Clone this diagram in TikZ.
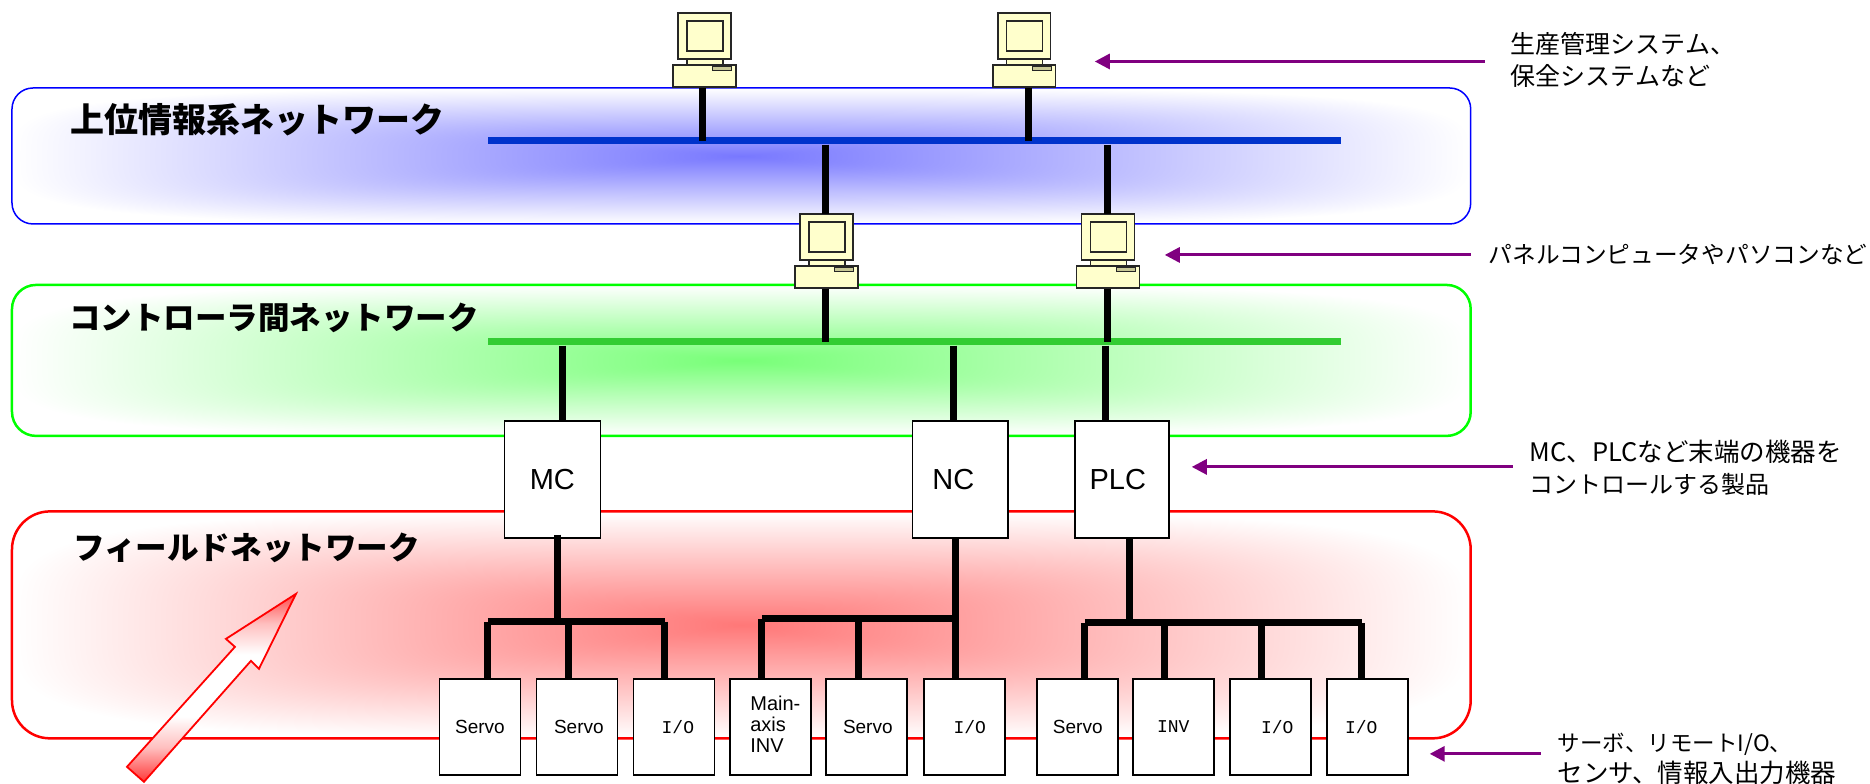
\documentclass[tikz,border=0pt]{standalone}
\usepackage{fontspec}
\setmainfont{Liberation Sans}
\newfontfamily\cjkfont{Noto Sans CJK JP}
\newfontfamily\boxmono{Liberation Mono}
\usetikzlibrary{arrows.meta}
\definecolor{busblue}{RGB}{0,51,204}
\definecolor{busgreen}{RGB}{51,204,51}
\definecolor{pcyellow}{RGB}{255,255,204}
\definecolor{slotc}{RGB}{200,200,150}
\definecolor{notepurple}{RGB}{128,0,128}
\pgfdeclarefunctionalshading{blueglow}{\pgfpointorigin}{\pgfpoint{100bp}{100bp}}{}{
  50 sub 25 div abs dup mul dup mul exch 50 sub 25 div abs dup mul dup mul add sqrt sqrt
  1 exch sub dup 0 lt {pop 0} if 0.53 mul 1 exch sub dup 1 }
\pgfdeclarefunctionalshading{greenglow}{\pgfpointorigin}{\pgfpoint{100bp}{100bp}}{}{
  50 sub 25 div abs dup mul dup mul exch 50 sub 25 div abs dup mul dup mul add sqrt sqrt
  1 exch sub dup 0 lt {pop 0} if 0.53 mul 1 exch sub dup 1 exch }
\pgfdeclarefunctionalshading{redglow}{\pgfpointorigin}{\pgfpoint{100bp}{100bp}}{}{
  50 sub 25 div abs dup mul dup mul exch 50 sub 25 div abs dup mul dup mul add sqrt sqrt
  1 exch sub dup 0 lt {pop 0} if 0.53 mul 1 exch sub dup 1 3 1 roll }
\pgfdeclareverticalshading{arrowglow}{100bp}{rgb(0bp)=(1,0,0); rgb(25bp)=(1,0,0); rgb(36bp)=(1,.75,.75); rgb(43bp)=(1,1,1); rgb(57bp)=(1,1,1); rgb(64bp)=(1,.75,.75); rgb(75bp)=(1,0,0); rgb(100bp)=(1,0,0)}
\tikzset{
  panel/.style={rectangle,shade,inner sep=0pt,minimum width=1459pt},
  bus/.style={rectangle,inner sep=0pt,minimum width=853pt,minimum height=7pt},
  wire/.style={line width=7pt,line cap=butt,black},
  bar/.style={line width=7pt,line cap=square,black},
  ctrlbox/.style={rectangle,draw=black,line width=1.6pt,fill=white,inner sep=0pt,minimum width=96pt,minimum height=117pt,font=\fontsize{29}{29}\selectfont},
  devbox/.style={rectangle,draw=black,line width=1.6pt,fill=white,inner sep=0pt,minimum width=81pt,minimum height=96pt,font=\fontsize{19}{21}\selectfont},
  pcpart/.style={draw=black!85,line width=1.4pt,fill=pcyellow},
  pcbase/.style={rectangle,pcpart,inner sep=0pt,minimum width=63pt,minimum height=22pt},
  title/.style={anchor=west,inner sep=0pt,font=\cjkfont\bfseries},
  note/.style={anchor=west,inner sep=0pt,align=left,font=\cjkfont\fontsize{23.5}{31}\selectfont},
  pointer/.style={-{Triangle[length=15pt,width=15pt]},line width=3pt,notepurple},
}
\newcommand{\pcunit}[3]{%
  \begin{scope}[shift={(#2,#3)}]
    \draw[pcpart] (14,46) rectangle (50,52);
    \draw[pcpart] (5,0) rectangle (58,46);
    \draw[pcpart] (14,8) rectangle (50,38);
    \coordinate (#1top) at (31.5,0);
    \node[pcbase] (#1) at (31.5,63) {};
    \draw[pcpart,fill=slotc,line width=1pt] (40,54) rectangle (59,58);
  \end{scope}}
\newcommand{\mono}{\boxmono\fontsize{18}{20}\selectfont}
\begin{document}
\begin{tikzpicture}[x=1pt,y=-1pt]
\useasboundingbox (0,0) rectangle (1870.4,783.85);
% panels
\node[panel,shading=blueglow,draw=blue,line width=1.5pt,rounded corners=21pt,minimum height=136pt] (blue) at (741.5,156) {};
\node[panel,shading=greenglow,draw=green,line width=2.5pt,rounded corners=24pt,minimum height=151pt] (green) at (741.5,360.5) {};
\node[panel,shading=redglow,draw=red,line width=2.5pt,rounded corners=38pt,minimum height=227pt] (red) at (741.5,625) {};
% titles
\node[title,font=\cjkfont\bfseries\fontsize{34}{34}\selectfont] (t1) at (70,120) {上位情報系ネットワーク};
\node[title,font=\cjkfont\bfseries\fontsize{31.5}{32}\selectfont] (t2) at (69,318) {コントローラ間ネットワーク};
\node[title,font=\cjkfont\bfseries\fontsize{31.6}{32}\selectfont] (t3) at (73,548) {フィールドネットワーク};
% buses
\node[bus,fill=busblue] (bluebus) at (914.5,141) {};
\node[bus,fill=busgreen] (greenbus) at (914.5,342) {};
% PCs
\pcunit{pc1}{673}{13}
\pcunit{pc2}{993}{13}
\pcunit{pc3}{795}{214}
\pcunit{pc4}{1077}{214}
% controllers
\node[ctrlbox] (mc) at (552.5,479.5) {MC};
\node[ctrlbox] (nc) at (960.5,479.5) {\hspace*{-14pt}NC};
\node[ctrlbox,minimum width=94pt] (plc) at (1122,479.5) {\hspace*{-8pt}PLC};
% devices
\node[devbox] (d1) at (480,727) {Servo};
\node[devbox] (d2) at (577,727) {\hspace*{4pt}Servo};
\node[devbox] (d3) at (674,727) {\hspace*{8pt}\mono I/O};
\node[devbox,font=\fontsize{20}{21}\selectfont] (d4) at (770.5,727) {\hspace*{10pt}\begin{tabular}{@{}l@{}}Main-\\axis\\INV\end{tabular}};
\node[devbox] (d5) at (866.5,727) {\hspace*{3pt}Servo};
\node[devbox] (d6) at (964.5,727) {\hspace*{11pt}\mono I/O};
\node[devbox] (d7) at (1077.5,727) {\hspace*{1pt}Servo};
\node[devbox] (d8) at (1173.5,727) {\mono INV};
\node[devbox] (d9) at (1270.5,727) {\hspace*{14pt}\mono I/O};
\node[devbox] (d10) at (1367.5,727) {\hspace*{-12pt}\mono I/O};
% wire guides
\coordinate (xp1) at (703,0);
\coordinate (xp2) at (1029,0);
\coordinate (xp3) at (826,0);
\coordinate (xp4) at (1108,0);
\coordinate (xmct) at (563,0);
\coordinate (xnct) at (954,0);
\coordinate (xplct) at (1106,0);
\coordinate (xmcb) at (558,0);
\coordinate (xncb) at (955.5,0);
\coordinate (xplcb) at (1129.5,0);
\coordinate (jn1) at (488,622);
\coordinate (jn1m) at (568.5,622);
\coordinate (jn1e) at (665,622);
\coordinate (jn2) at (762,619);
\coordinate (jn2m) at (858.5,619);
\coordinate (jn2e) at (956,619);
\coordinate (jn3) at (1085,623);
\coordinate (jn3a) at (1165,623);
\coordinate (jn3b) at (1262,623);
\coordinate (jn3e) at (1362,623);
% upper wires
\draw[wire] (xp1 |- pc1.south) -- (xp1 |- bluebus.center);
\draw[wire] (xp2 |- pc2.south) -- (xp2 |- bluebus.center);
\draw[wire] (xp3 |- bluebus.south) -- (xp3 |- pc3top);
\draw[wire] (xp4 |- bluebus.south) -- (xp4 |- pc4top);
\draw[wire] (xp3 |- pc3.south) -- (xp3 |- greenbus.center);
\draw[wire] (xp4 |- pc4.south) -- (xp4 |- greenbus.center);
\draw[wire] (xmct |- greenbus.south) -- (xmct |- mc.north);
\draw[wire] (xnct |- greenbus.south) -- (xnct |- nc.north);
\draw[wire] (xplct |- greenbus.south) -- (xplct |- plc.north);
% lower wires
\draw[wire] ([yshift=4pt]xmcb |- mc.south) -- (xmcb |- jn1);
\draw[wire] (xncb |- nc.south) -- (xncb |- jn2);
\draw[wire] (xplcb |- plc.south) -- (xplcb |- jn3);
\draw[bar] (jn1) -- (jn1e);
\draw[bar] (jn2) -- (jn2e);
\draw[bar] (jn3) -- (jn3e);
\draw[wire] (jn1) -- (jn1 |- d1.north);
\draw[wire] (jn1m) -- (jn1m |- d2.north);
\draw[wire] (jn1e) -- (jn1e |- d3.north);
\draw[wire] (jn2) -- (jn2 |- d4.north);
\draw[wire] (jn2m) -- (jn2m |- d5.north);
\draw[wire] (jn2e) -- (jn2e |- d6.north);
\draw[wire] (jn3) -- (jn3 |- d7.north);
\draw[wire] (jn3a) -- (jn3a |- d8.north);
\draw[wire] (jn3b) -- (jn3b |- d9.north);
\draw[wire] (jn3e) -- (jn3e |- d10.north);
% large arrow
\begin{scope}
  \clip (296,594) -- (226,639) -- (235,647) -- (127,767) -- (144,782) -- (251,661) -- (259,669) -- cycle;
  \shade[shading=arrowglow,shift={(296,594)},rotate=48.4] (-250,-23) rectangle (5,23);
\end{scope}
\draw[red,line width=1.8pt,line join=miter] (296,594) -- (226,639) -- (235,647) -- (127,767) -- (144,782) -- (251,661) -- (259,669) -- cycle;
% notes
\node[note,font=\cjkfont\fontsize{25}{32}\selectfont] (n1) at (1511,60) {生産管理システム、\\保全システムなど};
\node[note,font=\cjkfont\fontsize{23.7}{32}\selectfont] (n2) at (1489,255) {パネルコンピュータやパソコンなど};
\node[note] (n3) at (1530,467.5) {{\fontsize{25.5}{33}\selectfont MC、PLCなど末端の機器を}\\[1pt]{\fontsize{24}{32}\selectfont コントロールする製品}};
\node[note] (n4) at (1558,759.5) {{\fontsize{22.5}{31}\selectfont サーボ、リモートI/O、}\\{\fontsize{25.5}{31}\selectfont センサ、情報入出力機器}};
\coordinate (p1) at (1095,61.5);
\coordinate (q1) at (1485,61.5);
\coordinate (p2) at (1165,255);
\coordinate (q2) at (1471,255);
\coordinate (p3) at (1192,467);
\coordinate (q3) at (1513,467);
\coordinate (p4) at (1430,754);
\coordinate (q4) at (1541,754);
\draw[pointer] (q1) -- (p1);
\draw[pointer] (q2) -- (p2);
\draw[pointer] (q3) -- (p3);
\draw[pointer] (q4) -- (p4);
\end{tikzpicture}
\end{document}
